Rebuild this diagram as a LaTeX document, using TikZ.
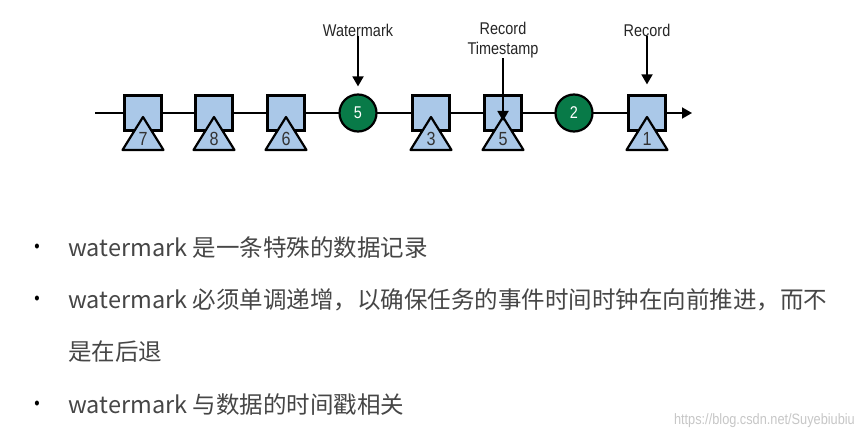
\documentclass[tikz,border=0pt]{standalone}
\usepackage{fontspec}
\setmainfont{Noto Sans CJK SC}
\newfontfamily\figfont[FakeStretch=0.85]{Liberation Sans}
\usetikzlibrary{arrows.meta}
\definecolor{recblue}{RGB}{170,200,232}
\definecolor{wmgreen}{RGB}{8,122,72}
\definecolor{bodygray}{RGB}{70,70,70}

\begin{document}
\begin{tikzpicture}[x=1pt, y=-1pt,
    record/.style={draw, line width=2.2pt, fill=recblue, minimum width=37pt, minimum height=35pt, inner sep=0pt},
    stamp/.style={draw, line width=2.2pt, fill=recblue, line join=round},
    stampnum/.style={inner sep=0pt, font=\figfont\fontsize{19}{19}\selectfont, text=black!80},
    wmark/.style={draw, line width=2.2pt, circle, fill=wmgreen, minimum size=37pt, inner sep=0pt, text=white, font=\figfont\fontsize{17}{17}\selectfont},
    lbl/.style={inner sep=0pt, align=center, text=black!85, font=\figfont\fontsize{17}{20}\selectfont},
    pointer/.style={line width=1.8pt, -{Triangle[length=10pt,width=11pt]}},
    bullet/.style={inner sep=0pt, font=\figfont\fontsize{18}{18}\selectfont, text=black},
    line/.style={anchor=west, inner sep=0pt, text=bodygray, font=\fontsize{23.5}{23.5}\selectfont}]
  \useasboundingbox[fill=white] (0,0) rectangle (863,436);

  % the stream
  \coordinate (start) at (95,113);
  \coordinate (stop) at (692,113);
  \draw[pointer] (start) -- (stop);

  % records and their timestamps
  \foreach \i/\x/\n in {1/143/7, 2/214/8, 3/286/6, 4/431/3, 5/503/5, 6/647/1} {
    \node[record] (r\i) at (\x,113) {};
    \draw[stamp] (\x,117) -- (\x+20.5,150) -- (\x-20.5,150) -- cycle;
    \node[stampnum] (t\i) at (\x,139) {\n};
  }

  % watermarks
  \node[wmark] (w1) at (358,113) {5};
  \node[wmark] (w2) at (574,113) {2};

  % labels
  \node[lbl] (lw) at (358,30) {Watermark};
  \node[lbl] (lt) at (503,40) {Record\\Timestamp};
  \node[lbl] (lr) at (647,30) {Record};
  \coordinate (apex) at (503,121);
  \draw[pointer, shorten >=7pt] (lw) -- (w1);
  \draw[pointer] (lt) -- (apex);
  \draw[pointer, shorten >=10pt] (lr) -- (r6);

  % text below
  \node[bullet] (b1) at (37,248) {•};
  \node[line] (l1) at (68,248) {watermark 是一条特殊的数据记录};
  \node[bullet] (b2) at (37,300) {•};
  \node[line] (l2) at (68,300) {watermark 必须单调递增，以确保任务的事件时间时钟在向前推进，而不};
  \node[line] (l3) at (68,352) {是在后退};
  \node[bullet] (b3) at (37,405) {•};
  \node[line] (l4) at (68,405) {watermark 与数据的时间戳相关};

  \node[anchor=east, inner sep=0pt, text=black!22, font=\figfont\fontsize{15}{15}\selectfont] (src) at (855,421) {https://blog.csdn.net/Suyebiubiu};
\end{tikzpicture}
\end{document}
